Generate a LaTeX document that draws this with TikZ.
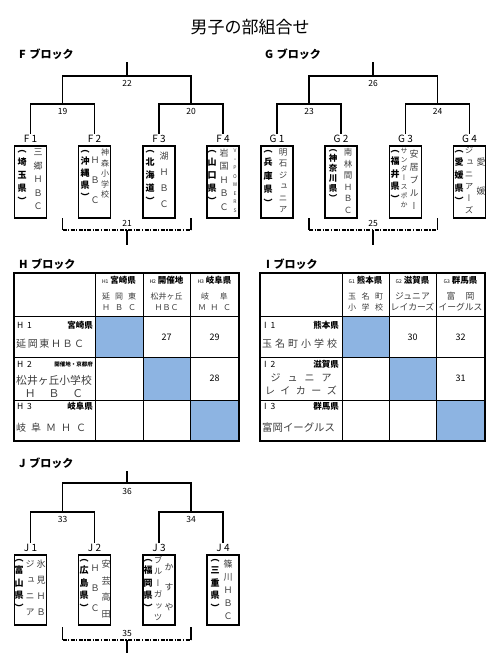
\documentclass[tikz,border=0pt]{standalone}
\usepackage{fontspec}
\setmainfont{Noto Sans CJK JP}
\newfontfamily\vjp[RawFeature={+vert}]{Noto Sans CJK JP}
\newcommand\po{{\rmfamily ︵}}
\newcommand\pc{{\rmfamily ︶}}
\definecolor{cellblue}{RGB}{141,180,226}
\definecolor{ink}{RGB}{60,60,60}
\begin{document}
\begin{tikzpicture}[x=1pt,y=-1pt]
\tikzstyle{bline}=[line width=1.3pt]
\tikzstyle{dline}=[line width=1.3pt, dash pattern=on 4pt off 1.5pt on 1.2pt off 1.5pt]
\tikzstyle{teambox}=[draw, line width=1.6pt, minimum width=32pt, minimum height=72pt, inner sep=0pt]
\tikzstyle{tlabel}=[font=\fontsize{10}{10}\selectfont, inner sep=1pt]
\tikzstyle{num}=[font=\fontsize{8.5}{8.5}\selectfont, inner sep=0pt]
\tikzstyle{blabel}=[anchor=west, font=\bfseries\fontsize{11}{11}\selectfont, inner sep=0pt]
\tikzstyle{grid}=[line width=0.8pt]
\tikzstyle{frame}=[line width=1.4pt]
\tikzstyle{cell}=[font=\fontsize{8}{11}\selectfont, text=ink, inner sep=0pt, align=center]
\tikzstyle{tag}=[font=\fontsize{8.5}{8.5}\selectfont, inner sep=0pt]
\tikzset{vcol/.style 2 args={anchor=north, align=center, inner sep=0pt, text=ink, font=\vjp\fontsize{#1}{#2}\selectfont},
  vpref/.style 2 args={anchor=north, align=center, inner sep=0pt, font=\vjp\bfseries\fontsize{#1}{#2}\selectfont}}

\useasboundingbox (0,0) rectangle (500,671);
\node[font=\fontsize{17}{17}\selectfont] (title) at (250,27) {男子の部組合せ};

% F block
\node[blabel] (Fname) at (19,54) {F\,\,ブロック};
\foreach \i/\x in {1/30.5,2/94.5,3/159,4/223} {
  \node[tlabel] (F\i) at (\x,139) {F\ \i};
  \node[teambox] (bF\i) at (\x,182) {};
}
\coordinate (m19) at (62.5,104);
\coordinate (m20) at (191,104);
\coordinate (m22) at (127,76);
\coordinate (t22) at (127,62);
\draw[bline] (F1.north) |- (m19) -| (F2.north);
\draw[bline] (F3.north) |- (m20) -| (F4.north);
\draw[bline] (m19) |- (m22) -| (m20);
\draw[bline] (m22) -- (t22);
\node[num] (n22) at (127,83) {22};
\node[num] (n19) at (62.5,111) {19};
\node[num] (n20) at (191,111) {20};
\coordinate (b21a) at (62.5,218);
\coordinate (b21b) at (191,218);
\coordinate (m21) at (127,230);
\coordinate (t21) at (127,245);
\draw[bline] (b21a) -- (b21a |- m21);
\draw[bline] (b21b) -- (b21b |- m21);
\draw[dline] (b21a |- m21) -- (b21b |- m21);
\draw[bline] (m21) -- (t21);
\node[num] (n21) at (127,223) {21};
\node[vpref={9}{13}] (F1a) at (22,150) {\po\\埼\\玉\\県\\\pc};
\node[vcol={9}{13.5}] (F1b) at (38,149) {三\\郷\\Ｈ\\Ｂ\\Ｃ};
\node[vpref={9}{12}] (F2a) at (85,150) {\po\\沖\\縄\\県\\\pc};
\node[vcol={9}{20}] (F2b) at (95,157) {Ｈ\\Ｂ\\Ｃ};
\node[vcol={8}{10.5}] (F2c) at (105,149) {神\\森\\小\\学\\校};
\node[vpref={9}{13}] (F3a) at (150,150) {\po\\北\\海\\道\\\pc};
\node[vcol={9}{16}] (F3b) at (164,152) {湖\\Ｈ\\Ｂ\\Ｃ};
\node[vpref={9}{13}] (F4a) at (212,150) {\po\\山\\口\\県\\\pc};
\node[vcol={9}{13.5}] (F4b) at (224,148.5) {岩\\国\\Ｈ\\Ｂ\\Ｃ};
\node[vcol={5}{8.5}] (F4c) at (235,149) {V\\・\\P\\O\\W\\E\\R\\S};

% G block
\node[blabel] (Gname) at (265,54) {G\,\,ブロック};
\foreach \i/\x in {1/277,2/341,3/405.5,4/469.5} {
  \node[tlabel] (G\i) at (\x,139) {G\ \i};
  \node[teambox] (bG\i) at (\x,182) {};
}
\coordinate (m23) at (309,104);
\coordinate (m24) at (437.5,104);
\coordinate (m26) at (373,76);
\coordinate (t26) at (373,62);
\draw[bline] (G1.north) |- (m23) -| (G2.north);
\draw[bline] (G3.north) |- (m24) -| (G4.north);
\draw[bline] (m23) |- (m26) -| (m24);
\draw[bline] (m26) -- (t26);
\node[num] (n26) at (373,83) {26};
\node[num] (n23) at (309,111) {23};
\node[num] (n24) at (437.5,111) {24};
\coordinate (b25a) at (309,218);
\coordinate (b25b) at (437.5,218);
\coordinate (m25) at (373,230);
\coordinate (t25) at (373,245);
\draw[bline] (b25a) -- (b25a |- m25);
\draw[bline] (b25b) -- (b25b |- m25);
\draw[dline] (b25a |- m25) -- (b25b |- m25);
\draw[bline] (m25) -- (t25);
\node[num] (n25) at (373,223) {25};
\node[vpref={9}{13.5}] (G1a) at (268,150) {\po\\兵\\庫\\県\\\pc};
\node[vcol={8.5}{11.5}] (G1b) at (283,148.5) {明\\石\\ジ\\ュ\\ニ\\ア};
\node[vpref={8.5}{10}] (G2a) at (333,149.5) {\po\\神\\奈\\川\\県\\\pc};
\node[vcol={8.5}{11.5}] (G2b) at (348,148.5) {南\\林\\間\\Ｈ\\Ｂ\\Ｃ};
\node[vpref={9}{12.5}] (G3a) at (395,150) {\po\\福\\井\\県\\\pc};
\node[vcol={7}{9}] (G3b) at (404,148) {サ\\ン\\ダ\\ー\\ス\\ポ\\か};
\node[vcol={9}{13}] (G3c) at (414,149.5) {安\\居\\ブ\\ル\\ー};
\node[vpref={9}{13}] (G4a) at (459,150) {\po\\愛\\媛\\県\\\pc};
\node[vcol={8.5}{12}] (G4b) at (469,147) {ジ\\ュ\\ニ\\ア\\ー\\ズ};
\node[vcol={9}{29}] (G4c) at (481,158) {愛\\媛};

% H block
\node[blabel] (Hname) at (19,264) {H\,\,ブロック};
\fill[cellblue] (95,316) rectangle (143,357);
\fill[cellblue] (143,357) rectangle (190,400);
\fill[cellblue] (190,400) rectangle (239,441);
\foreach \x in {95,143,190} \draw[grid] (\x,273) -- (\x,441);
\foreach \y in {316,357,400} \draw[grid] (14,\y) -- (239,\y);
\draw[frame] (14,273) rectangle (239,441);
\node[tag] (hH1) at (119,280) {{\fontsize{5}{5}\selectfont H1}\ \textbf{宮崎県}};
\node[tag] (hH2) at (166.5,280) {{\fontsize{5}{5}\selectfont H2}\ \textbf{開催地}};
\node[tag] (hH3) at (214.5,280) {{\fontsize{5}{5}\selectfont H3}\ \textbf{岐阜県}};
\node[cell] (hH1n) at (119,301.5) {延\hspace{5pt}岡\hspace{5pt}東\\Ｈ\hspace{5pt}Ｂ\hspace{5pt}Ｃ};
\node[cell] (hH2n) at (166.5,301.5) {松井ヶ丘\\ＨＢＣ};
\node[cell] (hH3n) at (214.5,301.5) {岐\hspace{11pt}阜\\Ｍ\hspace{4.5pt}Ｈ\hspace{4.5pt}Ｃ};
\node[tag, anchor=west] (rH1a) at (17,325) {H\ \ 1};
\node[tag, anchor=east] (rH1b) at (93,325) {\textbf{宮崎県}};
\node[cell, anchor=west, font=\fontsize{10}{10}\selectfont] (rH1c) at (16,344) {延\hspace{1.6pt}岡\hspace{1.6pt}東\hspace{1.6pt}Ｈ\hspace{1.6pt}Ｂ\hspace{1.6pt}Ｃ};
\node[tag, anchor=west] (rH2a) at (17,364) {H\ \ 2};
\node[tag, anchor=east, font=\fontsize{5.5}{5.5}\selectfont] (rH2b) at (93,364) {\textbf{開催地・京都府}};
\node[cell, font=\fontsize{10.8}{13}\selectfont] (rH2c) at (54,386.5) {松井ヶ丘小学校\\Ｈ\hspace{13pt}Ｂ\hspace{13pt}Ｃ};
\node[tag, anchor=west] (rH3a) at (17,406) {H\ \ 3};
\node[tag, anchor=east] (rH3b) at (93,406) {\textbf{岐阜県}};
\node[cell, anchor=west, font=\fontsize{10}{10}\selectfont] (rH3c) at (16,428) {岐\hspace{5pt}阜\hspace{5pt}Ｍ\hspace{5pt}Ｈ\hspace{5pt}Ｃ};
\node[num, font=\fontsize{9}{9}\selectfont] (h27) at (166.5,337) {27};
\node[num, font=\fontsize{9}{9}\selectfont] (h29) at (214.5,337) {29};
\node[num, font=\fontsize{9}{9}\selectfont] (h28) at (214.5,378) {28};

% I block
\node[blabel] (Iname) at (266,264) {I\,\,ブロック};
\fill[cellblue] (342,316) rectangle (389,357);
\fill[cellblue] (389,357) rectangle (436,400);
\fill[cellblue] (436,400) rectangle (485,441);
\foreach \x in {342,389,436} \draw[grid] (\x,273) -- (\x,441);
\foreach \y in {316,357,400} \draw[grid] (260,\y) -- (485,\y);
\draw[frame] (260,273) rectangle (485,441);
\node[tag] (hI1) at (365.5,280) {{\fontsize{5}{5}\selectfont G1}\ \textbf{熊本県}};
\node[tag] (hI2) at (412.5,280) {{\fontsize{5}{5}\selectfont G2}\ \textbf{滋賀県}};
\node[tag] (hI3) at (460.5,280) {{\fontsize{5}{5}\selectfont G3}\ \textbf{群馬県}};
\node[cell] (hI1n) at (365.5,301.5) {玉\hspace{5.5pt}名\hspace{5.5pt}町\\小\hspace{5.5pt}学\hspace{5.5pt}校};
\node[cell, font=\fontsize{8.8}{11}\selectfont] (hI2n) at (412.5,301.5) {ジュニア\\レイカーズ};
\node[cell, font=\fontsize{8.8}{11}\selectfont] (hI3n) at (460.5,301.5) {富\hspace{10pt}岡\\イーグルス};
\node[tag, anchor=west] (rI1a) at (264,325) {I\ \ 1};
\node[tag, anchor=east] (rI1b) at (339,325) {\textbf{熊本県}};
\node[cell, anchor=west, font=\fontsize{10}{10}\selectfont] (rI1c) at (262,344) {玉\hspace{3pt}名\hspace{3pt}町\hspace{3pt}小\hspace{3pt}学\hspace{3pt}校};
\node[tag, anchor=west] (rI2a) at (264,364) {I\ \ 2};
\node[tag, anchor=east] (rI2b) at (339,364) {\textbf{滋賀県}};
\node[cell, font=\fontsize{10}{13}\selectfont] (rI2c) at (301,384.5) {ジ\hspace{7pt}ュ\hspace{7pt}ニ\hspace{7pt}ア\\レ\hspace{5.5pt}イ\hspace{5.5pt}カ\hspace{5.5pt}ー\hspace{5.5pt}ズ};
\node[tag, anchor=west] (rI3a) at (264,406) {I\ \ 3};
\node[tag, anchor=east] (rI3b) at (339,406) {\textbf{群馬県}};
\node[cell, anchor=west, font=\fontsize{10.4}{10.4}\selectfont] (rI3c) at (262,428) {富岡イーグルス};
\node[num, font=\fontsize{9}{9}\selectfont] (i30) at (412.5,337) {30};
\node[num, font=\fontsize{9}{9}\selectfont] (i32) at (460.5,337) {32};
\node[num, font=\fontsize{9}{9}\selectfont] (i31) at (460.5,378) {31};

% J block
\node[blabel] (Jname) at (19,463) {J\,\,ブロック};
\foreach \i/\x in {1/30.5,2/94.5,3/159,4/223} {
  \node[tlabel] (J\i) at (\x,548) {J\ \i};
  \node[teambox, minimum height=70pt] (bJ\i) at (\x,590) {};
}
\coordinate (m33) at (62.5,512);
\coordinate (m34) at (191,512);
\coordinate (m36) at (127,483);
\coordinate (t36) at (127,471);
\draw[bline] (J1.north) |- (m33) -| (J2.north);
\draw[bline] (J3.north) |- (m34) -| (J4.north);
\draw[bline] (m33) |- (m36) -| (m34);
\draw[bline] (m36) -- (t36);
\node[num] (n36) at (127,491) {36};
\node[num] (n33) at (62.5,519) {33};
\node[num] (n34) at (191,519) {34};
\coordinate (b35a) at (62.5,627);
\coordinate (b35b) at (191,627);
\coordinate (m35) at (127,640);
\coordinate (t35) at (127,653);
\draw[bline] (b35a) -- (b35a |- m35);
\draw[bline] (b35b) -- (b35b |- m35);
\draw[dline] (b35a |- m35) -- (b35b |- m35);
\draw[bline] (m35) -- (t35);
\node[num] (n35) at (127,633) {35};
\node[vpref={9}{12.5}] (J1a) at (19,559) {\po\\富\\山\\県\\\pc};
\node[vcol={9}{16}] (J1b) at (30,560) {ジ\\ュ\\ニ\\ア};
\node[vcol={9}{16}] (J1c) at (41,560) {氷\\見\\Ｈ\\Ｂ};
\node[vpref={9}{12.5}] (J2a) at (84,559) {\po\\広\\島\\県\\\pc};
\node[vcol={9}{20}] (J2b) at (95,565) {Ｈ\\Ｂ\\Ｃ};
\node[vcol={9}{16.5}] (J2c) at (106,560) {安\\芸\\高\\田};
\node[vpref={9}{12.5}] (J3a) at (148,559) {\po\\福\\岡\\県\\\pc};
\node[vcol={8.5}{11.5}] (J3b) at (158,556) {ブ\\ル\\ー\\ガ\\ッ\\ツ};
\node[vcol={9}{20}] (J3c) at (169,563) {か\\す\\や};
\node[vpref={9}{12.5}] (J4a) at (215,559) {\po\\三\\重\\県\\\pc};
\node[vcol={9}{13}] (J4b) at (228,560) {篠\\川\\Ｈ\\Ｂ\\Ｃ};
\end{tikzpicture}
\end{document}
